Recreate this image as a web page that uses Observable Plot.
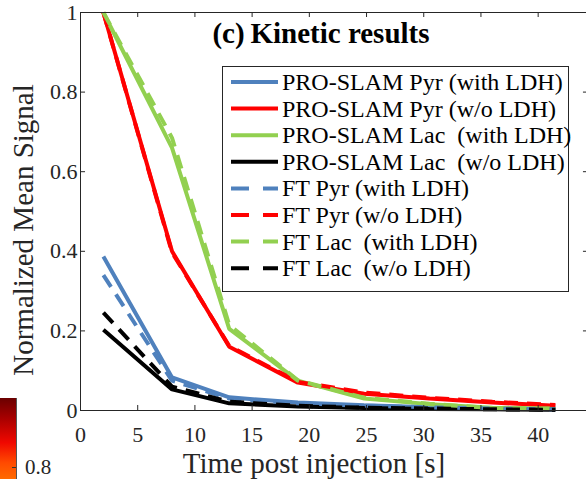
<!DOCTYPE html>
<html>
<head>
<meta charset="utf-8">
<script src="https://cdn.jsdelivr.net/npm/d3@7"></script>
<script src="https://cdn.jsdelivr.net/npm/@observablehq/plot@0.6"></script>
<style>
  html, body { margin: 0; padding: 0; background: #fff; }
  #wrap { position: relative; width: 586px; height: 479px; overflow: hidden; }
  #cbar { position: absolute; left: 0; top: 398px; width: 16px; height: 81px;
          background: linear-gradient(to bottom, #6a0000, #a80000 25%, #f00800 55%, #ff4a00 80%, #ff6a00); }
  #cbarEdge { position: absolute; left: 16px; top: 398px; width: 1px; height: 81px; background: #555; }
  #cbarTick { position: absolute; left: 12px; top: 467px; width: 4px; height: 1px; background: #333; }
  #cbarLab { position: absolute; left: 25px; top: 457px; font-size: 21px; line-height: 1; color: #262626;
             font-family: "Liberation Serif", "Times New Roman", Times, "DejaVu Serif", serif; }
  svg text { font-family: "Liberation Serif", "Times New Roman", Times, "DejaVu Serif", serif !important; }
</style>
</head>
<body>
<div id="wrap"><div id="cbar"></div><div id="cbarEdge"></div><div id="cbarTick"></div><div id="cbarLab">0.8</div></div>
<script>
const time = [2, 8, 13, 19, 24.8, 30.5, 36, 41.5];
const proPyrWith = [0.387, 0.083, 0.033, 0.020, 0.013, 0.008, 0.005, 0.003];
const proPyrWo   = [1.0, 0.400, 0.160, 0.070, 0.042, 0.030, 0.020, 0.012];
const proLacWith = [1.0, 0.660, 0.205, 0.075, 0.030, 0.016, 0.007, 0.005];
const proLacWo   = [0.203, 0.053, 0.018, 0.010, 0.006, 0.004, 0.003, 0.002];
const ftPyrWith  = [0.340, 0.075, 0.030, 0.018, 0.012, 0.008, 0.005, 0.003];
const ftPyrWo    = [1.0, 0.397, 0.162, 0.072, 0.045, 0.032, 0.022, 0.014];
const ftLacWith  = [1.0, 0.685, 0.215, 0.076, 0.032, 0.017, 0.006, 0.004];
const ftLacWo    = [0.246, 0.060, 0.022, 0.012, 0.007, 0.005, 0.003, 0.002];

const seriesNames = [
  "PRO-SLAM Pyr (with LDH)", "PRO-SLAM Pyr (w/o LDH)", "PRO-SLAM Lac\u00a0 (with LDH)", "PRO-SLAM Lac\u00a0 (w/o LDH)",
  "FT Pyr (with LDH)", "FT Pyr (w/o LDH)", "FT Lac\u00a0 (with LDH)", "FT Lac\u00a0 (w/o LDH)"
];
const seriesValues = [proPyrWith, proPyrWo, proLacWith, proLacWo, ftPyrWith, ftPyrWo, ftLacWith, ftLacWo];
const seriesColors = ["#4f81bd", "#ff0000", "#92d050", "#000000", "#4f81bd", "#ff0000", "#92d050", "#000000"];
const seriesDashed = [false, false, false, false, true, true, true, true];
const xTicks = [0, 5, 10, 15, 20, 25, 30, 35, 40];
const yTicks = [0, 0.2, 0.4, 0.6, 0.8, 1];
const yTickLabels = ["0", "0.2", "0.4", "0.6", "0.8", "1"];

const DASH = "14,9";
const lineMarks = seriesValues.map((vals, i) => {
  const rows = time.map((t, j) => ({t, v: vals[j]}));
  return Plot.line(rows, {x: "t", y: "v", stroke: seriesColors[i], strokeWidth: 4,
    strokeDasharray: seriesDashed[i] ? DASH : null, strokeLinejoin: "miter", strokeLinecap: "butt"});
});

const font = '"Liberation Serif", "Times New Roman", Times, "DejaVu Serif", serif';
const axisColor = "#262626";
const XMAX = 44.4;

const chart = Plot.plot({
  width: 586, height: 479,
  marginLeft: 80, marginRight: -2, marginTop: 12, marginBottom: 69,
  style: {fontFamily: font, background: "white", color: axisColor, overflow: "visible"},
  x: {domain: [0, XMAX]},
  y: {domain: [0, 1]},
  marks: [
    ...lineMarks,
    Plot.frame({stroke: axisColor, strokeWidth: 1}),
    Plot.axisX({ticks: xTicks, tickSize: 0, tickPadding: 16, fontSize: 22, label: null, tickFormat: d => String(d)}),
    Plot.axisY({ticks: yTicks, tickSize: 0, tickPadding: 3, fontSize: 22, label: null, tickFormat: d => yTickLabels[yTicks.indexOf(d)]}),
    Plot.ruleX(xTicks, {x: d => d, y1: 0, y2: 0.0126, stroke: axisColor, strokeWidth: 1}),
    Plot.ruleX(xTicks, {x: d => d, y1: 1, y2: 1 - 0.0126, stroke: axisColor, strokeWidth: 1}),
    Plot.ruleY(yTicks, {y: d => d, x1: 0, x2: 0.44, stroke: axisColor, strokeWidth: 1}),
    Plot.ruleY(yTicks, {y: d => d, x1: XMAX, x2: XMAX - 0.44, stroke: axisColor, strokeWidth: 1})
  ]
});

const svg = d3.select(chart);
function addText(sel, x, y, size, txt, anchor, weight, fill) {
  return sel.append("text").attr("x", x).attr("y", y)
    .style("text-anchor", anchor).style("font-family", font).style("font-size", size + "px")
    .style("font-weight", weight || "normal").style("fill", fill || "#000").text(txt);
}
// Axis titles
addText(svg, 314, 473, 29, "Time post injection [s]", "middle", "normal", axisColor);
addText(svg, 0, 0, 29, "Normalized Mean Signal", "middle", "normal", axisColor)
  .attr("transform", "translate(33,230) rotate(-90)");
// Title inside axes
addText(svg, 321, 43, 29, "(c)\u2009Kinetic results", "middle", "bold", "#000");
// Legend
const lg = svg.append("g");
lg.append("rect").attr("x", 222.5).attr("y", 66.5).attr("width", 346).attr("height", 225)
  .attr("fill", "white").attr("stroke", axisColor).attr("stroke-width", 1);
seriesNames.forEach((name, i) => {
  const yy = 82 + i * 26.6;
  lg.append("line").attr("x1", 231).attr("x2", 278).attr("y1", yy).attr("y2", yy)
    .attr("stroke", seriesColors[i]).attr("stroke-width", 4)
    .attr("stroke-dasharray", seriesDashed[i] ? "18,14" : null);
  addText(lg, 282, yy + 8, 24, name, "start", "normal", "#000");
});

document.getElementById("wrap").prepend(chart);
chart.style.position = "absolute"; chart.style.left = "0"; chart.style.top = "0";
</script>
</body>
</html>
